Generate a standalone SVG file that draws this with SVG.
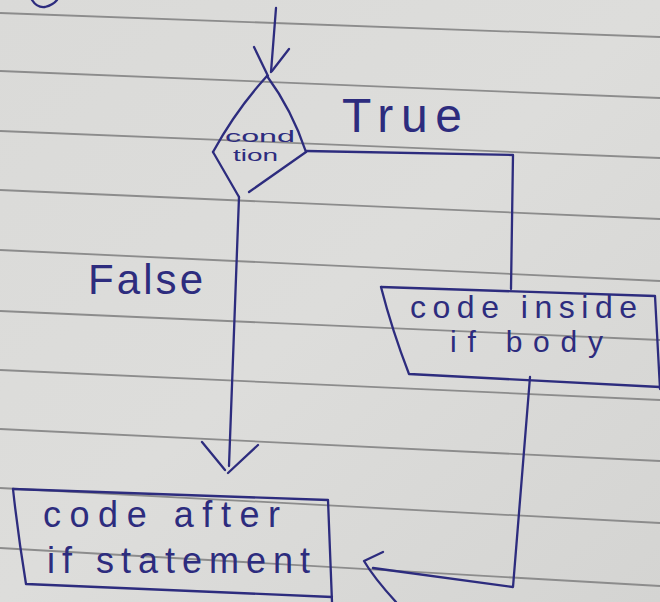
<svg xmlns="http://www.w3.org/2000/svg" width="660" height="602" viewBox="0 0 660 602">
  <defs>
    <linearGradient id="paper" x1="0" y1="0" x2="1" y2="1">
      <stop offset="0" stop-color="#dadad8"/>
      <stop offset="0.5" stop-color="#dddddb"/>
      <stop offset="1" stop-color="#d4d4d2"/>
    </linearGradient>
    <style>
      .rule { fill: none; stroke: #8c8c8c; stroke-width: 1.8; }
      .ink { fill: none; stroke: #2d2c7e; stroke-width: 2.3; stroke-linecap: round; stroke-linejoin: round; }
      .hand { font-family: "Liberation Sans", "DejaVu Sans", sans-serif; fill: #2d2c7e; }
    </style>
  </defs>

  <!-- ruled notebook paper -->
  <rect x="0" y="0" width="660" height="602" fill="url(#paper)"/>
  <g id="ruling">
    <path class="rule" d="M0,13 L660,37"/>
    <path class="rule" d="M0,71 L660,98"/>
    <path class="rule" d="M0,131 L660,158"/>
    <path class="rule" d="M0,190 L660,219"/>
    <path class="rule" d="M0,250 L660,281"/>
    <path class="rule" d="M0,311 L660,340"/>
    <path class="rule" d="M0,370 L660,400"/>
    <path class="rule" d="M0,429 L660,461"/>
    <path class="rule" d="M0,488 L660,523"/>
    <path class="rule" d="M0,548 L660,586"/>
  </g>

  <!-- stray ink from the line above -->
  <path class="ink" d="M32,0 Q37,8 45,7 Q53,5 57,0"/>

  <!-- decision diamond -->
  <g id="node-condition">
    <path class="ink" d="M267,76 Q236,110 213,152"/>
    <path class="ink" d="M267,76 Q292,110 306,152"/>
    <path class="ink" d="M213,152 L239,197"/>
    <path class="ink" d="M306,152 L249,192"/>
    <text class="hand" x="225" y="142" font-size="17" textLength="70" lengthAdjust="spacingAndGlyphs">cond</text>
    <text class="hand" x="233" y="161" font-size="16" textLength="45" lengthAdjust="spacingAndGlyphs">tion</text>
  </g>

  <!-- process box: if body -->
  <g id="node-if-body">
    <path class="ink" d="M381,287 L655,296 L660,389"/>
    <path class="ink" d="M381,287 Q392,330 409,374 L660,387"/>
    <text class="hand" x="410" y="318" font-size="32" textLength="227" lengthAdjust="spacing">code inside</text>
    <text class="hand" x="450" y="352" font-size="30" textLength="153" lengthAdjust="spacing">if body</text>
  </g>

  <!-- process box: after the if -->
  <g id="node-after">
    <path class="ink" d="M13,489 L328,500 L332,602"/>
    <path class="ink" d="M13,489 Q18,535 26,584 L332,597"/>
    <text class="hand" x="43" y="527" font-size="36" textLength="237" lengthAdjust="spacing">code after</text>
    <text class="hand" x="47" y="573" font-size="36" textLength="263" lengthAdjust="spacing">if statement</text>
  </g>

  <!-- connectors -->
  <g id="connectors">
    <!-- entry -->
    <path class="ink" d="M276,8 L271,72"/>
    <path class="ink" d="M254,47 L268,76 M289,49 L272,71"/>
    <!-- true branch -->
    <path class="ink" d="M306,151 L513,155 L511,289"/>
    <!-- false branch -->
    <path class="ink" d="M239,197 L229,466"/>
    <path class="ink" d="M202,442 L225,470 M258,445 L228,473"/>
    <!-- return from if body -->
    <path class="ink" d="M530,377 L513,587 L373,568"/>
    <path class="ink" d="M383,552 L364,561 Q374,578 396,602"/>
  </g>

  <!-- branch labels -->
  <g id="labels">
    <text class="hand" x="342" y="132" font-size="48" textLength="120" lengthAdjust="spacing">True</text>
    <text class="hand" x="88" y="294" font-size="42" textLength="115" lengthAdjust="spacing">False</text>
  </g>
</svg>
